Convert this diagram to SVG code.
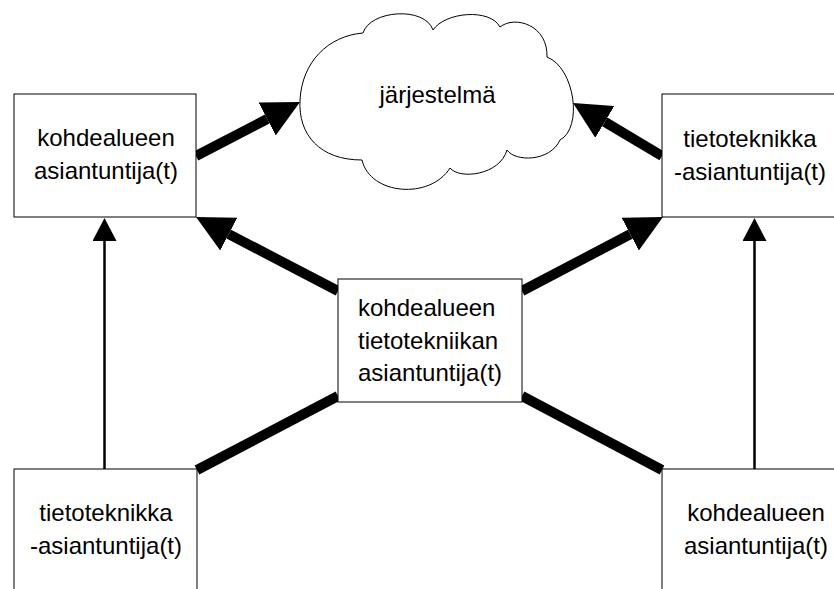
<svg xmlns="http://www.w3.org/2000/svg" width="834" height="589" viewBox="0 0 834 589">
<style>
.box{fill:#fff;stroke:#000;stroke-width:1}
.t{font-family:"Liberation Sans",Arial,sans-serif;font-size:24px;fill:#000}
.c{text-anchor:middle}
.thick{stroke:#000;stroke-width:10;fill:none}
.thin{stroke:#000;stroke-width:2.5;fill:none}
</style>
<defs>
<marker id="big" markerUnits="userSpaceOnUse" markerWidth="37" markerHeight="37" viewBox="0 0 37 37" refX="0" refY="18.5" orient="auto">
<path d="M0,0 L37,18.5 L0,37 z" fill="#000"/>
</marker>
<marker id="small" markerUnits="userSpaceOnUse" markerWidth="23" markerHeight="24" viewBox="0 0 23 24" refX="0" refY="12" orient="auto">
<path d="M0,0 L23,12 L0,24 z" fill="#000"/>
</marker>
</defs>
<g id="connectors">
<line class="thick" x1="196" y1="156" x2="267.2" y2="119.05" marker-end="url(#big)"/>
<line class="thick" x1="662" y1="156" x2="604.8" y2="121.9" marker-end="url(#big)"/>
<line class="thick" x1="338" y1="291" x2="228.8" y2="234.1" marker-end="url(#big)"/>
<line class="thick" x1="522" y1="291" x2="630.2" y2="234.2" marker-end="url(#big)"/>
<line class="thick" x1="338" y1="396" x2="197" y2="470"/>
<line class="thick" x1="522" y1="396" x2="662" y2="470"/>
<line class="thin" x1="104.5" y1="469" x2="104.5" y2="241" marker-end="url(#small)"/>
<line class="thin" x1="754.5" y1="469" x2="754.5" y2="241" marker-end="url(#small)"/>
</g>
<g id="cloud">
<path class="box" d="M300,100 C302,62 328,36 363,33 C370,10 425,6 433,30 C445,12 490,8 500,27 C515,15 548,25 547,57 C575,68 583,128 560,140 C550,162 515,162 507,150 C500,175 460,180 450,168 C430,200 370,195 362,160 C320,160 298,135 300,100 z"/>
<text class="t c" x="437.5" y="103">järjestelmä</text>
</g>
<g id="box-top-left">
<rect class="box" x="14" y="94" width="182" height="123"/>
<text class="t c" x="106" y="146">kohdealueen</text>
<text class="t c" x="106" y="179">asiantuntija(t)</text>
</g>
<g id="box-top-right">
<rect class="box" x="662" y="94" width="186" height="123"/>
<text class="t c" x="750" y="147">tietoteknikka</text>
<text class="t c" x="750" y="180">-asiantuntija(t)</text>
</g>
<g id="box-middle">
<rect class="box" x="338" y="279" width="184" height="123"/>
<text class="t" x="358" y="316">kohdealueen</text>
<text class="t" x="358" y="349">tietotekniikan</text>
<text class="t" x="358" y="381">asiantuntija(t)</text>
</g>
<g id="box-bottom-left">
<rect class="box" x="14" y="469" width="183" height="140"/>
<text class="t c" x="106" y="521">tietoteknikka</text>
<text class="t c" x="106" y="554">-asiantuntija(t)</text>
</g>
<g id="box-bottom-right">
<rect class="box" x="662" y="469" width="190" height="140"/>
<text class="t c" x="756" y="521">kohdealueen</text>
<text class="t c" x="756" y="554">asiantuntija(t)</text>
</g>
</svg>
